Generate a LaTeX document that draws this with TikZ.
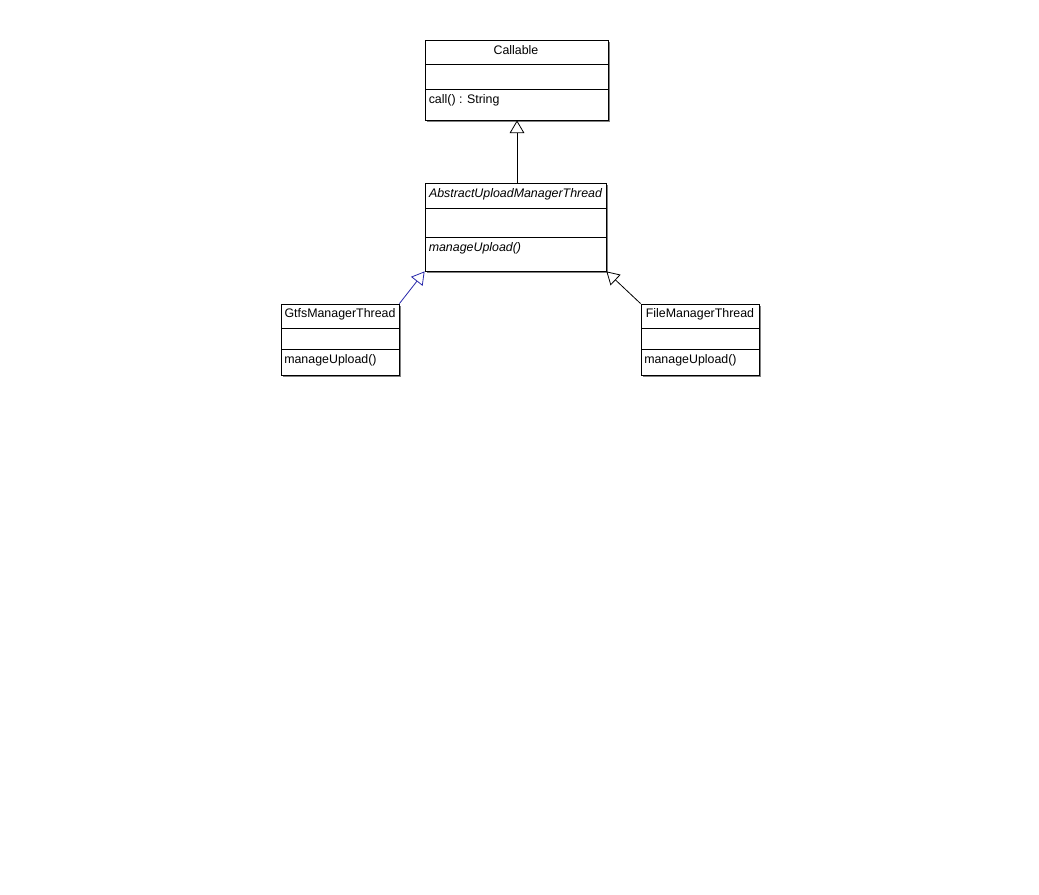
\documentclass[tikz,border=0pt]{standalone}
\usepackage{fontspec}
\setmainfont{Liberation Sans}
\usetikzlibrary{arrows.meta,shadows,fit}

\tikzset{
    classbox/.style={draw, fill=white, inner sep=0pt, line width=0.6pt,
        drop shadow={shadow xshift=1.6pt, shadow yshift=-1.6pt, fill=black!50, opacity=1}},
    divider/.style={line width=0.6pt},
    label/.style={inner sep=0pt, font=\fontsize{9.3}{11}\selectfont},
    italiclabel/.style={label, font=\fontsize{9.3}{11}\selectfont\itshape},
    inherit/.style={line width=0.6pt, -{Triangle[open, length=9.5pt, width=11pt, fill=white]}},
}

\begin{document}
\begin{tikzpicture}[x=0.75pt, y=-0.75pt]
    \useasboundingbox (0,0) rectangle (1039,895);

    % Callable
    \node[classbox, fit={(425,40) (608,120)}] (callable) {};
    \draw[divider] (425,64) -- (608,64);
    \draw[divider] (425,89) -- (608,89);
    \node[label] (callable-name) at (516,50) {Callable};
    \node[label, anchor=west] (callable-op) at (428.5,100) {call() : String};

    % AbstractUploadManagerThread
    \node[classbox, fit={(425,183) (606,271)}] (abstract) {};
    \draw[divider] (425,208) -- (606,208);
    \draw[divider] (425,237) -- (606,237);
    \node[italiclabel] (abstract-name) at (515.5,194) {AbstractUploadManagerThread};
    \node[italiclabel, anchor=west] (abstract-op) at (428.5,248) {manageUpload()};

    % GtfsManagerThread
    \node[classbox, fit={(281,304) (399,375)}] (gtfs) {};
    \draw[divider] (281,328) -- (399,328);
    \draw[divider] (281,349) -- (399,349);
    \node[label] (gtfs-name) at (340,314) {GtfsManagerThread};
    \node[label, anchor=west] (gtfs-op) at (284,360) {manageUpload()};

    % FileManagerThread
    \node[classbox, fit={(641,304) (759,375)}] (file) {};
    \draw[divider] (641,328) -- (759,328);
    \draw[divider] (641,349) -- (759,349);
    \node[label] (file-name) at (700,314) {FileManagerThread};
    \node[label, anchor=west] (file-op) at (644,360) {manageUpload()};

    % generalisations
    \draw[inherit] (abstract.north -| 517,0) -- (callable.south -| 517,0);
    \draw[inherit, draw={rgb,255:red,40;green,40;blue,170}] (gtfs.north east) -- (abstract.south west);
    \draw[inherit] (file.north west) -- (abstract.south east);
\end{tikzpicture}
\end{document}
